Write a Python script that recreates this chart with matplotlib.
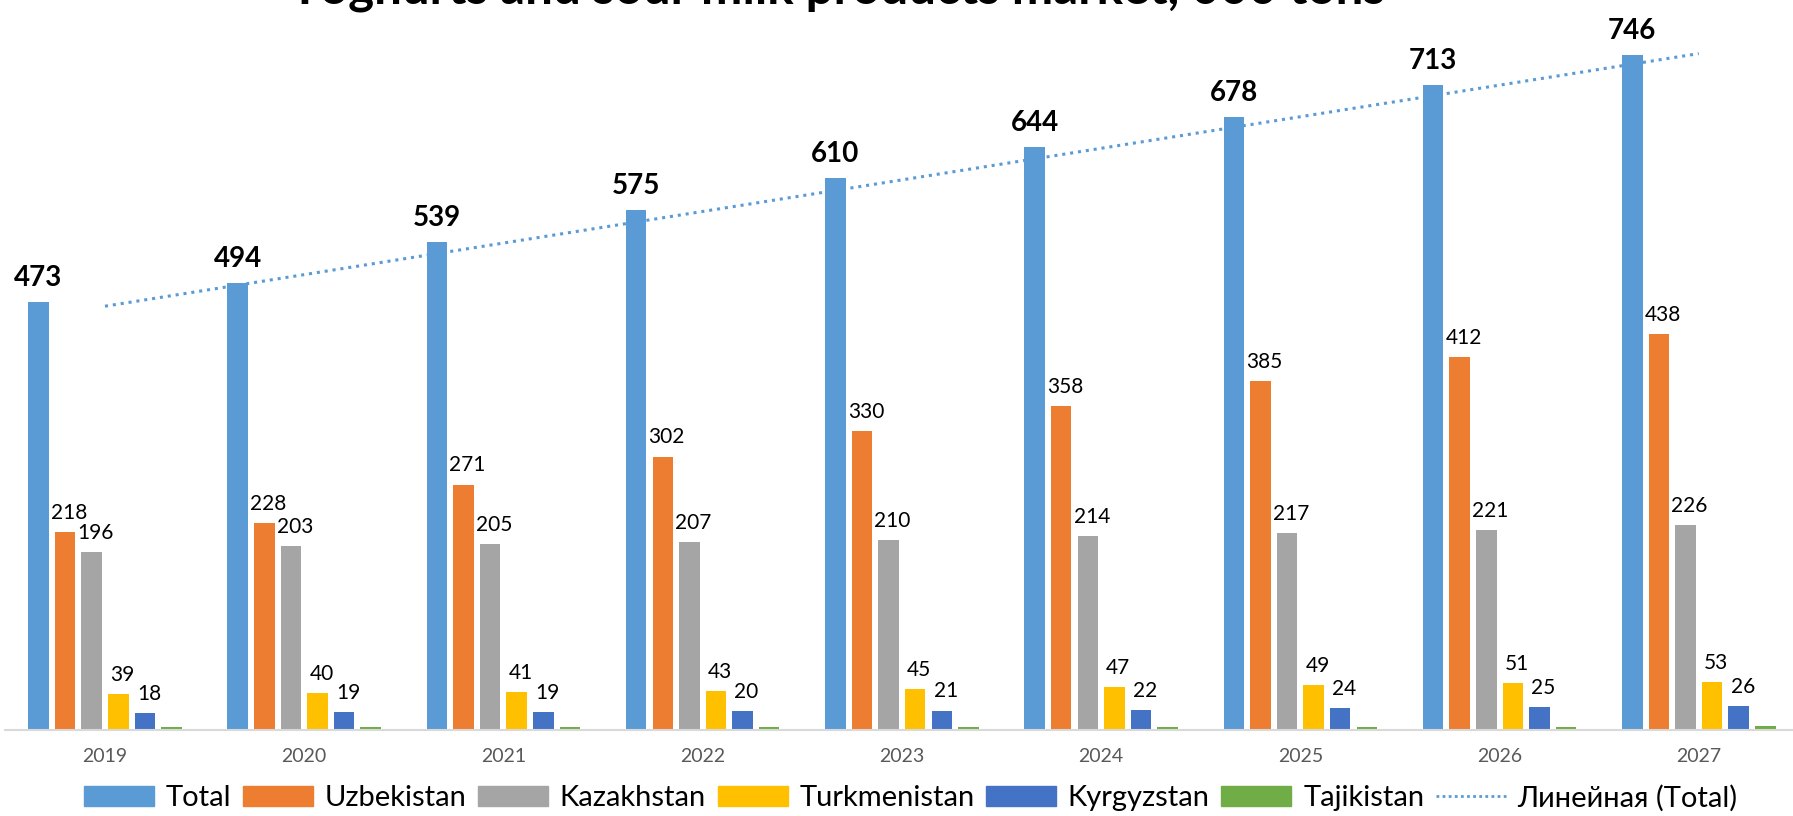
import numpy as np
import matplotlib; matplotlib.use("Agg")
import matplotlib.pyplot as plt
from matplotlib.lines import Line2D
from matplotlib.patches import Patch

plt.rcParams['font.family'] = ['Lato', 'DejaVu Sans']

years = ["2019", "2020", "2021", "2022", "2023", "2024", "2025", "2026", "2027"]
total = [473, 494, 539, 575, 610, 644, 678, 713, 746]
uzbekistan = [218, 228, 271, 302, 330, 358, 385, 412, 438]
kazakhstan = [196, 203, 205, 207, 210, 214, 217, 221, 226]
turkmenistan = [39, 40, 41, 43, 45, 47, 49, 51, 53]
kyrgyzstan = [18, 19, 19, 20, 21, 22, 24, 25, 26]
tajikistan = [3, 3, 3, 3, 3, 3, 3, 3, 4]

series = [("Total", total, "#5B9BD5"), ("Uzbekistan", uzbekistan, "#ED7D31"),
          ("Kazakhstan", kazakhstan, "#A5A5A5"), ("Turkmenistan", turkmenistan, "#FFC000"),
          ("Kyrgyzstan", kyrgyzstan, "#4472C4"), ("Tajikistan", tajikistan, "#70AD47")]

fig = plt.figure(figsize=(17.93, 8.16), dpi=100)
ax = fig.add_axes([0.003, 0.106, 1.0, 0.894])
x = np.arange(len(years))
step, bw = 0.1335, 0.103

for i, (name, vals, col) in enumerate(series):
    xs = x + (i - 2.5) * step
    ax.bar(xs, vals, bw, color=col, label=name)
    if name == "Total":
        for xi, v in zip(xs, vals):
            ax.text(xi, v + 12, str(v), ha="center", va="bottom", fontsize=20, fontweight="bold")
    elif name != "Tajikistan":
        for xi, v in zip(xs, vals):
            ax.text(xi + 0.02, v + 10, str(v), ha="center", va="bottom", fontsize=15)

# linear trend of Total
k, b = np.polyfit(x, total, 1)
ax.plot(x, k * x + b, ls=(0, (1, 1.6)), color="#5B9BD5", lw=2.2)

ax.set_xlim(-0.5, len(years) - 0.5)
ax.set_ylim(0, 807)
ax.set_xticks(x)
ax.set_xticklabels(years, fontsize=14, color="#595959")
ax.tick_params(axis="x", length=0, pad=13)
ax.set_yticks([])
for s in ["top", "right", "left"]:
    ax.spines[s].set_visible(False)
ax.spines["bottom"].set_color("#D9D9D9")
ax.spines["bottom"].set_linewidth(1.5)

handles = [Patch(color=c, label=n) for n, _, c in series]
handles.append(Line2D([0], [0], ls=(0, (1, 1.2)), color="#5B9BD5", lw=2, label="Линейная (Total)"))
fig.legend(handles=handles, loc="center", bbox_to_anchor=(0.508, 0.022), ncol=7, frameon=False,
           fontsize=21, handlelength=2.4, handleheight=0.7, columnspacing=0.4, handletextpad=0.4)

fig.text(0.467, 1 - 3 / 816, "Yoghurts and sour milk products market, 000 tons", ha="center",
         va="baseline", fontsize=35.5, fontweight="bold")

fig.savefig("out.png", dpi=100, facecolor="white")
